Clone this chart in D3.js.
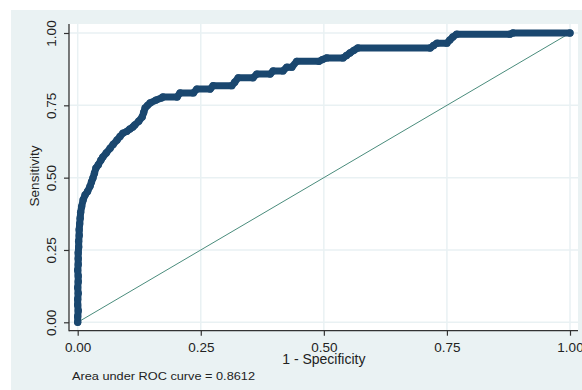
<!DOCTYPE html>
<html>
<head>
<meta charset="utf-8">
<script src="https://cdn.jsdelivr.net/npm/d3@7"></script>
<style>
  html, body { margin: 0; padding: 0; background: #fff; }
  svg { display: block; font-family: "Liberation Sans", Arial, sans-serif; }
</style>
</head>
<body>
<svg id="chart" width="582" height="390"></svg>
<script>
// ROC curve coordinates: false-positive rate (1 - specificity) and sensitivity
const fpr = [
  0, 0, 0.001, 0, 0, 0.001, 0, 0.001, 0.001, 0, 0.001, 0.001, 0.001, 0.002, 0.002,
  0.003, 0.003, 0.004, 0.005, 0.006, 0.008, 0.011, 0.015, 0.020, 0.025, 0.028, 0.031,
  0.034, 0.037, 0.042, 0.047, 0.051, 0.058, 0.066, 0.072, 0.080, 0.086, 0.092, 0.100,
  0.106, 0.112, 0.116, 0.124, 0.131, 0.134, 0.137, 0.142, 0.147, 0.159, 0.170, 0.173,
  0.202, 0.208, 0.235, 0.242, 0.269, 0.275, 0.313, 0.319, 0.326, 0.356, 0.364, 0.391,
  0.397, 0.417, 0.425, 0.435, 0.445, 0.490, 0.497, 0.506, 0.539, 0.546, 0.553, 0.561,
  0.569, 0.716, 0.723, 0.730, 0.750, 0.756, 0.762, 0.770, 0.878, 0.884, 1.000
];
const tpr = [
  0, 0.020, 0.040, 0.060, 0.080, 0.100, 0.120, 0.140, 0.160, 0.180, 0.200, 0.220, 0.240, 0.260, 0.280,
  0.300, 0.320, 0.340, 0.360, 0.380, 0.400, 0.423, 0.440, 0.452, 0.470, 0.485, 0.499,
  0.515, 0.533, 0.545, 0.560, 0.571, 0.585, 0.602, 0.615, 0.630, 0.642, 0.654, 0.660,
  0.668, 0.675, 0.682, 0.695, 0.710, 0.725, 0.741, 0.750, 0.758, 0.768, 0.775, 0.779,
  0.779, 0.793, 0.793, 0.806, 0.806, 0.818, 0.818, 0.830, 0.845, 0.845, 0.858, 0.858,
  0.869, 0.869, 0.882, 0.882, 0.902, 0.902, 0.908, 0.914, 0.914, 0.922, 0.931, 0.940,
  0.948, 0.948, 0.957, 0.965, 0.965, 0.976, 0.986, 0.996, 0.996, 1.000, 1.000
];
const refLine = [0, 1];
const xTicks = [0, 0.25, 0.5, 0.75, 1];
const yTicks = [0, 0.25, 0.5, 0.75, 1];
const aucValue = 0.8612;

const svg = d3.select("#chart");
const W = 582, H = 390;
const plot = { left: 69, top: 24, right: 578, bottom: 330.7 };

const x = d3.scaleLinear().domain([0, 1]).range([77.7, 570]);
const y = d3.scaleLinear().domain([0, 1]).range([322.3, 33]);

// Backgrounds: outer graph region and white plot region
svg.append("rect").attr("width", W).attr("height", H).attr("fill", "#ffffff");
svg.append("rect").attr("x", 11).attr("y", 10).attr("width", W - 11).attr("height", H - 10)
  .attr("fill", "#eaf2f3");
svg.append("rect").attr("x", plot.left).attr("y", plot.top)
  .attr("width", plot.right - plot.left).attr("height", plot.bottom - plot.top)
  .attr("fill", "#ffffff");

// Grid lines
const grid = svg.append("g").attr("stroke", "#e9f1f3").attr("stroke-width", 1.5);
grid.selectAll("line.h").data(yTicks).join("line").attr("class", "h")
  .attr("x1", plot.left).attr("x2", plot.right)
  .attr("y1", d => y(d)).attr("y2", d => y(d));
grid.selectAll("line.v").data(xTicks).join("line").attr("class", "v")
  .attr("y1", plot.top).attr("y2", plot.bottom)
  .attr("x1", d => x(d)).attr("x2", d => x(d));

// Axes
const fmt = d3.format(".2f");
const xAxis = svg.append("g").attr("transform", `translate(0,${plot.bottom})`)
  .call(d3.axisBottom(x).tickValues(xTicks).tickFormat(fmt).tickSize(5).tickPadding(7));
const yAxis = svg.append("g").attr("transform", `translate(${plot.left},0)`)
  .call(d3.axisLeft(y).tickValues(yTicks).tickFormat(fmt).tickSize(5));

[xAxis, yAxis].forEach(g => {
  g.select(".domain").remove();
  g.selectAll(".tick line").attr("stroke", "#333").attr("stroke-width", 1.2);
  g.selectAll(".tick text").attr("fill", "#222").style("font-size", "13.5px")
    .style("font-family", "\"Liberation Sans\", Arial, sans-serif");
});
yAxis.selectAll(".tick text")
  .attr("transform", "rotate(-90)")
  .attr("x", 0).attr("y", -13).attr("dy", 0)
  .attr("text-anchor", "middle");

svg.append("line").attr("x1", plot.left).attr("x2", plot.left)
  .attr("y1", plot.top).attr("y2", plot.bottom + 0.6)
  .attr("stroke", "#333").attr("stroke-width", 1.3);
svg.append("line").attr("x1", plot.left).attr("x2", plot.right)
  .attr("y1", plot.bottom).attr("y2", plot.bottom)
  .attr("stroke", "#333").attr("stroke-width", 1.3);

// Reference diagonal
svg.append("line")
  .attr("x1", x(refLine[0])).attr("y1", y(refLine[0]))
  .attr("x2", x(refLine[1])).attr("y2", y(refLine[1]))
  .attr("stroke", "#4a8c7c").attr("stroke-width", 1);

// ROC curve: connected line plus markers
const pts = fpr.map((f, i) => [f, tpr[i]]);
svg.append("path").datum(pts)
  .attr("fill", "none").attr("stroke", "#1a476f").attr("stroke-width", 7)
  .attr("stroke-linejoin", "round").attr("stroke-linecap", "round")
  .attr("d", d3.line().x(d => x(d[0])).y(d => y(d[1])));
svg.append("g").selectAll("circle").data(pts).join("circle")
  .attr("cx", d => x(d[0])).attr("cy", d => y(d[1])).attr("r", 3.7)
  .attr("fill", "#1a476f");

// Axis titles and note
svg.append("text").attr("transform", "translate(39,176) rotate(-90)")
  .attr("text-anchor", "middle").attr("fill", "#222").style("font-size", "13.5px")
  .text("Sensitivity");
svg.append("text").attr("x", x(0.5)).attr("y", 364)
  .attr("text-anchor", "middle").attr("fill", "#222").style("font-size", "14px")
  .text("1 - Specificity");
svg.append("text").attr("x", 72).attr("y", 380)
  .attr("fill", "#222").style("font-size", "10.5px")
  .attr("textLength", 183).attr("lengthAdjust", "spacingAndGlyphs")
  .text("Area under ROC curve = " + aucValue.toFixed(4));
</script>
</body>
</html>
